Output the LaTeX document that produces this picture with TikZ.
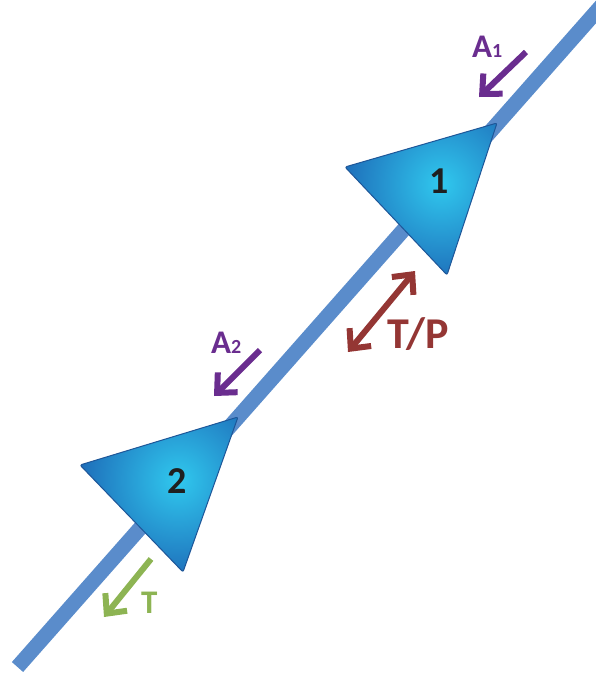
\documentclass[tikz,border=0pt]{standalone}
\usepackage{fontspec}
\setmainfont{Carlito}
\usetikzlibrary{arrows.meta}

\definecolor{pipeblue}{HTML}{5A8CCB}
\definecolor{tricyan}{HTML}{30C8EE}
\definecolor{triblue}{HTML}{1A5AAE}
\definecolor{tririm}{HTML}{1E5698}
\definecolor{apurple}{HTML}{6A2D8F}
\definecolor{tpred}{HTML}{943634}
\definecolor{tgreen}{HTML}{8DB453}

\tikzset{
  flowarrow/.style={line width=6pt, -{Straight Barb[length=15pt,width=28pt]}},
  botharrow/.style={line width=6pt, {Straight Barb[length=15pt,width=28pt]}-{Straight Barb[length=15pt,width=28pt]}},
  valveshade/.style={inner color=tricyan, outer color=triblue},
  valverim/.style={draw=tririm, line width=1pt, rounded corners=2pt},
  valvelabel/.style={anchor=base west, inner sep=0pt, text=black!88, font=\fontsize{38}{38}\selectfont\bfseries},
  flowlabel/.style={anchor=base west, inner sep=0pt, font=\fontsize{33}{33}\selectfont\bfseries},
}
\newcommand{\smalldigit}[1]{{\fontsize{20}{20}\selectfont #1}}

\begin{document}
\begin{tikzpicture}[x=1pt,y=-1pt]
\useasboundingbox (0,0) rectangle (596,673);
% pipe
\coordinate (pipeS) at (17.5,667);
\coordinate (pipeE) at (603,4);
\draw[line width=15pt, pipeblue] (pipeS) -- (pipeE);
% valve 1
\begin{scope}
\clip[rounded corners=2pt] (345,167) -- (497,123) -- (447,275) -- cycle;
\shade[valveshade] (441,184) circle (120);
\end{scope}
\draw[valverim] (345,167) -- (497,123) -- (447,275) -- cycle;
\node[valvelabel] (one) at (429,193) {1};
% valve 2
\begin{scope}
\clip[rounded corners=2pt] (80,465) -- (238,417) -- (183,572) -- cycle;
\shade[valveshade] (178,480) circle (120);
\end{scope}
\draw[valverim] (80,465) -- (238,417) -- (183,572) -- cycle;
\node[valvelabel] (two) at (167,493) {2};
% A1
\coordinate (aoneS) at (526,52);
\coordinate (aoneE) at (479,97);
\draw[flowarrow, apurple] (aoneS) -- (aoneE);
\node[flowlabel, text=apurple] (aone) at (472,57) {A\smalldigit{1}};
% A2
\coordinate (atwoS) at (260,350);
\coordinate (atwoE) at (214,396);
\draw[flowarrow, apurple] (atwoS) -- (atwoE);
\node[flowlabel, text=apurple] (atwo) at (211,353) {A\smalldigit{2}};
% T/P
\coordinate (tpA) at (415,271);
\coordinate (tpB) at (348,352);
\draw[botharrow, tpred] (tpB) -- (tpA);
\node[flowlabel, text=tpred, font=\fontsize{44}{44}\selectfont\bfseries] (tp) at (387,348) {T/P};
% T
\coordinate (tS) at (151,559);
\coordinate (tE) at (104,617);
\draw[flowarrow, tgreen] (tS) -- (tE);
\node[flowlabel, text=tgreen] (t) at (141,613) {T};
\end{tikzpicture}
\end{document}
